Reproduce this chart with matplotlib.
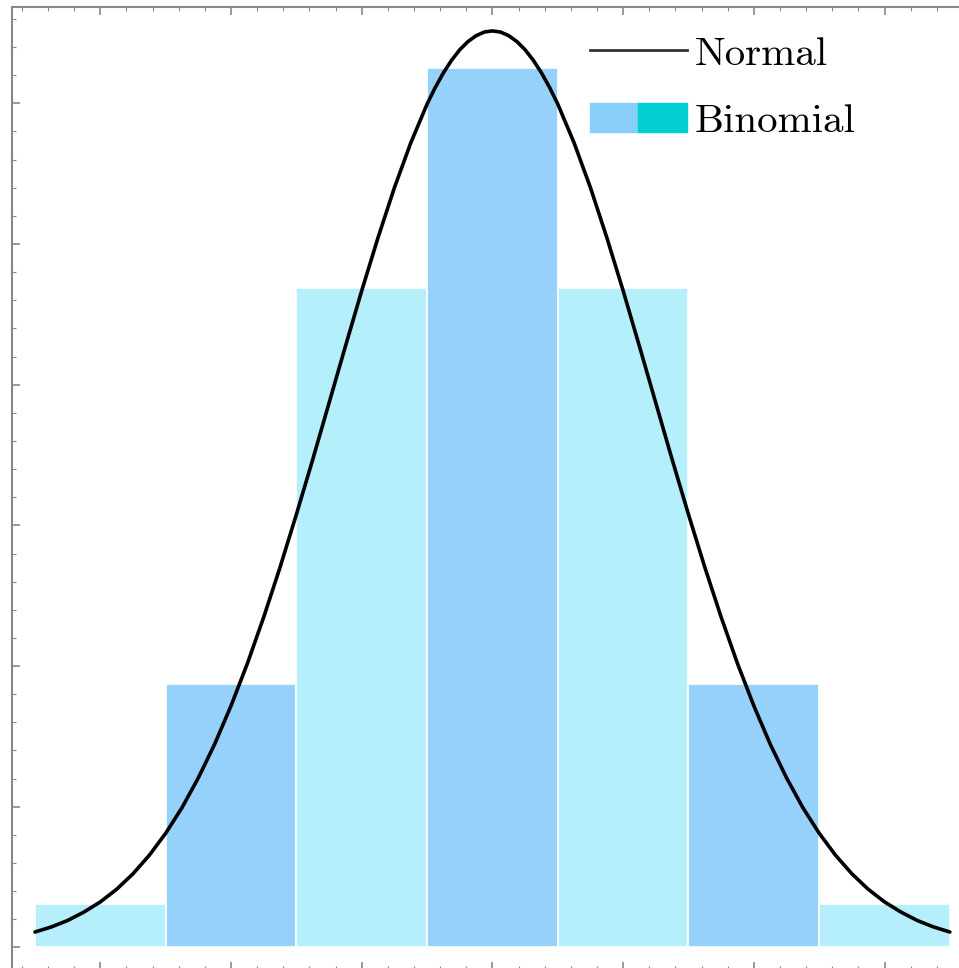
import matplotlib
matplotlib.use('Agg')
import matplotlib.pyplot as plt
from matplotlib.patches import Patch
from matplotlib.lines import Line2D
from matplotlib.legend_handler import HandlerTuple
from matplotlib.ticker import MultipleLocator

plt.rcParams['font.family'] = ['cmr10', 'DejaVu Serif']
plt.rcParams['mathtext.fontset'] = 'cm'
plt.rcParams['axes.formatter.use_mathtext'] = True

# binomial pmf (n=6, p=0.5)
k_values = [0, 1, 2, 3, 4, 5, 6]
binom_probs = [1/64, 6/64, 15/64, 20/64, 15/64, 6/64, 1/64]

# normal curve, read at steps of 0.125 (finer near the peak)
normal_x = [-0.5, -0.375, -0.25, -0.125, 0.0, 0.125, 0.25, 0.375, 0.5, 0.625, 0.75, 0.875,
            1.0, 1.125, 1.25, 1.375, 1.5, 1.625, 1.75, 1.875, 2.0, 2.125, 2.25, 2.375,
            2.5, 2.5625, 2.625, 2.6875, 2.75, 2.8125, 2.875, 2.9375, 3.0, 3.0625, 3.125,
            3.1875, 3.25, 3.3125, 3.375, 3.4375, 3.5, 3.625, 3.75, 3.875,
            4.0, 4.125, 4.25, 4.375, 4.5, 4.625, 4.75, 4.875, 5.0, 5.125, 5.25, 5.375,
            5.5, 5.625, 5.75, 5.875, 6.0, 6.125, 6.25, 6.375, 6.5]
normal_y = [0.0055, 0.0073, 0.0096, 0.0126, 0.0162, 0.0207, 0.0262, 0.0328, 0.0406, 0.0497,
            0.0603, 0.0723, 0.0859, 0.1009, 0.1174, 0.1351, 0.1539, 0.1734, 0.1935, 0.2136,
            0.2334, 0.2523, 0.2700, 0.2859, 0.2997, 0.3056, 0.3108, 0.3153, 0.3190, 0.3219,
            0.3240, 0.3253, 0.3257, 0.3253, 0.3240, 0.3219, 0.3190, 0.3153, 0.3108, 0.3056,
            0.2997, 0.2859, 0.2700, 0.2523, 0.2334, 0.2136, 0.1935, 0.1734,
            0.1539, 0.1351, 0.1174, 0.1009, 0.0859, 0.0723, 0.0603, 0.0497, 0.0406, 0.0328,
            0.0262, 0.0207, 0.0162, 0.0126, 0.0096, 0.0073, 0.0055]

light_bar = '#b6effc'
dark_bar = '#96d1fc'
bar_colors = [light_bar if i % 2 == 0 else dark_bar for i in range(len(k_values))]

W, H = 959, 968
fig = plt.figure(figsize=(W / 100, H / 100), dpi=100)
ax = fig.add_axes([12 / W, (H - 970) / H, 964 / W, 963 / H])

ax.bar(k_values, binom_probs, width=1.0, color=bar_colors, edgecolor='white', linewidth=1.2)
ax.plot(normal_x, normal_y, color='black', linewidth=2.6, solid_capstyle='round',
        solid_joinstyle='round')

ax.set_xlim(-0.676, 6.7)
ax.set_ylim(-0.008, 0.3342)

ax.xaxis.set_major_locator(MultipleLocator(1))
ax.xaxis.set_minor_locator(MultipleLocator(0.2))
ax.yaxis.set_major_locator(MultipleLocator(0.05))
ax.yaxis.set_minor_locator(MultipleLocator(0.01))
ax.tick_params(which='both', direction='in', top=True, right=True, color='#888888',
               labelbottom=False, labelleft=False)
ax.tick_params(which='major', length=6, width=1.2)
ax.tick_params(which='minor', length=3, width=0.8)
for s in ax.spines.values():
    s.set_color('#888888')
    s.set_linewidth(1.5)

normal_handle = Line2D([], [], color='#333333', linewidth=2.0)
binom_handle = (Patch(color='#87cefa'), Patch(color='#00ced1'))
leg = ax.legend([normal_handle, binom_handle], ['Normal', 'Binomial'],
                handler_map={tuple: HandlerTuple(ndivide=None, pad=0)},
                loc='upper left', bbox_to_anchor=(590 / W, 1 - 36 / H),
                bbox_transform=fig.transFigure, frameon=False, fontsize=29.5,
                handlelength=2.36, handletextpad=0.2, labelspacing=0.75, borderpad=0,
                borderaxespad=0)

fig.savefig('out.png', dpi=100)
